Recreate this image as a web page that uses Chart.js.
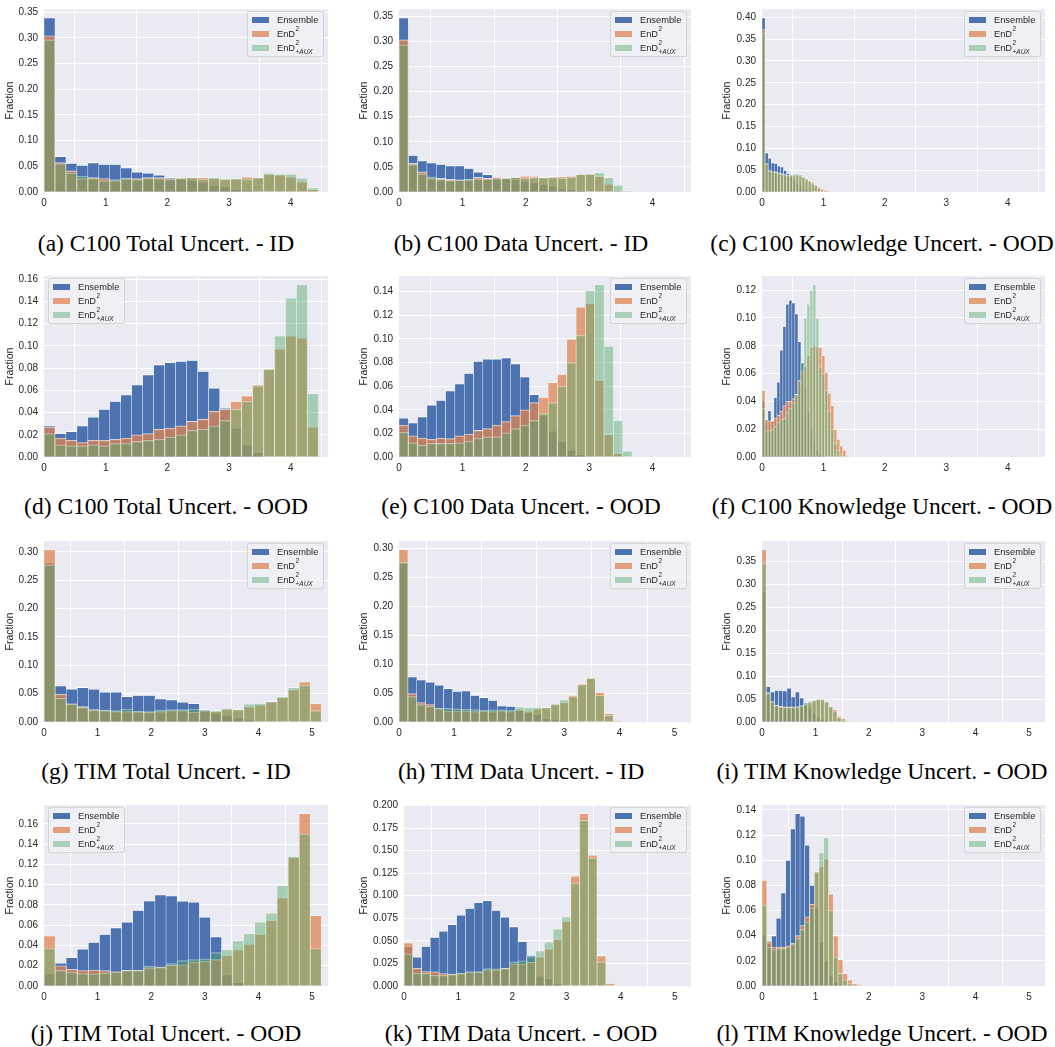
<!DOCTYPE html>
<html>
<head>
<meta charset="utf-8">
<script src="https://cdn.jsdelivr.net/npm/chart.js@4.4.1/dist/chart.umd.min.js"></script>
<style>
  html, body { margin: 0; padding: 0; background: #fff; }
  #fig { position: relative; width: 1055px; height: 1047px; overflow: hidden; }
  #fig canvas { position: absolute; }
  .cap { position: absolute; width: 440px; text-align: center; white-space: nowrap;
         font-family: "Liberation Serif", "Times New Roman", serif; font-size: 23.5px; line-height: 26px; color: #000; }
  .leg { position: absolute; width: 77px; height: 46px; box-sizing: border-box;
         background: rgba(240,240,246,0.8); border: 1px solid rgba(204,204,204,0.8); border-radius: 3px;
         font-family: "Liberation Sans", Arial, sans-serif; font-size: 9.3px; color: #262626; }
  .leg .sw { position: absolute; left: 4px; width: 17px; height: 6px; }
  .leg .lb { position: absolute; left: 29px; line-height: 12px; white-space: nowrap; }
  .leg .sup, .leg .sub { position: absolute; left: 18.5px; font-size: 6.5px; line-height: 8px; }
  .leg .sup { top: -3px; }
  .leg .sub { top: 6px; }
</style>
</head>
<body>
<div id="fig"></div>
<script>
// ── 資料：每張子圖三組直方圖（每 bin 的比例）────────────────
const c100Range = Math.log(100);
const timRange = Math.log(200);

// C100 Total Uncert.
const c100TotalBin = 0.178;
const c100TotalIdEns = [0.339, 0.069, 0.056, 0.052, 0.057, 0.054, 0.054, 0.047, 0.039, 0.037, 0.033, 0.028, 0.026, 0.023, 0.019, 0.013, 0.010, 0.005, 0.003, 0.001, 0, 0, 0, 0, 0];
const c100TotalIdEnd = [0.304, 0.057, 0.041, 0.026, 0.028, 0.026, 0.022, 0.026, 0.026, 0.028, 0.028, 0.026, 0.027, 0.028, 0.028, 0.026, 0.025, 0.025, 0.029, 0.028, 0.034, 0.033, 0.029, 0.020, 0.005];
const c100TotalIdAux = [0.296, 0.055, 0.037, 0.031, 0.026, 0.022, 0.024, 0.026, 0.024, 0.027, 0.026, 0.025, 0.027, 0.028, 0.025, 0.028, 0.025, 0.026, 0.025, 0.028, 0.037, 0.035, 0.035, 0.027, 0.008];
const c100TotalOodEns = [0.028, 0.021, 0.023, 0.028, 0.036, 0.043, 0.050, 0.056, 0.065, 0.074, 0.083, 0.085, 0.086, 0.087, 0.077, 0.062, 0.044, 0.026, 0.011, 0.004, 0, 0, 0, 0, 0];
const c100TotalOodEnd = [0.027, 0.017, 0.015, 0.013, 0.015, 0.015, 0.016, 0.017, 0.020, 0.021, 0.025, 0.026, 0.028, 0.032, 0.034, 0.041, 0.043, 0.050, 0.055, 0.065, 0.079, 0.097, 0.109, 0.107, 0.027];
const c100TotalOodAux = [0.021, 0.011, 0.010, 0.010, 0.011, 0.010, 0.012, 0.012, 0.014, 0.015, 0.016, 0.018, 0.020, 0.024, 0.025, 0.028, 0.033, 0.043, 0.050, 0.064, 0.079, 0.109, 0.143, 0.155, 0.057];

// C100 Data Uncert.
const c100DataBin = 0.147;
const c100DataIdEns = [0.347, 0.073, 0.062, 0.058, 0.055, 0.052, 0.052, 0.047, 0.040, 0.035, 0.029, 0.027, 0.025, 0.022, 0.019, 0.015, 0.012, 0.007, 0.005, 0.002, 0, 0, 0, 0, 0];
const c100DataIdEnd = [0.303, 0.057, 0.040, 0.027, 0.027, 0.025, 0.024, 0.024, 0.029, 0.027, 0.030, 0.028, 0.029, 0.032, 0.032, 0.029, 0.031, 0.031, 0.032, 0.035, 0.036, 0.031, 0.016, 0.003, 0];
const c100DataIdAux = [0.293, 0.055, 0.036, 0.030, 0.025, 0.023, 0.024, 0.025, 0.026, 0.026, 0.027, 0.028, 0.030, 0.028, 0.029, 0.029, 0.029, 0.028, 0.030, 0.036, 0.036, 0.039, 0.029, 0.014, 0.002];
const c100DataOodEns = [0.033, 0.029, 0.034, 0.044, 0.048, 0.056, 0.062, 0.071, 0.081, 0.083, 0.083, 0.084, 0.079, 0.068, 0.053, 0.035, 0.022, 0.013, 0.006, 0.002, 0, 0, 0, 0, 0];
const c100DataOodEnd = [0.027, 0.018, 0.016, 0.015, 0.016, 0.0155, 0.018, 0.0195, 0.0225, 0.024, 0.027, 0.030, 0.035, 0.040, 0.046, 0.0505, 0.063, 0.070, 0.100, 0.127, 0.130, 0.065, 0.019, 0.003, 0];
const c100DataOodAux = [0.021, 0.012, 0.010, 0.0115, 0.0115, 0.0115, 0.012, 0.0135, 0.016, 0.017, 0.017, 0.0205, 0.024, 0.027, 0.031, 0.037, 0.046, 0.060, 0.080, 0.103, 0.141, 0.146, 0.094, 0.031, 0.005];

// C100 Knowledge Uncert.
const c100KnowBinA = 0.05;
const c100KnowAEns = [0.399, 0.090, 0.078, 0.067, 0.066, 0.060, 0.058, 0.050, 0.043, 0.036, 0.028, 0.020, 0.014, 0.009, 0.005, 0.003, 0.001, 0, 0, 0, 0, 0, 0];
const c100KnowAEnd = [0.372, 0.065, 0.049, 0.046, 0.046, 0.044, 0.042, 0.040, 0.038, 0.037, 0.037, 0.038, 0.036, 0.034, 0.030, 0.026, 0.023, 0.017, 0.012, 0.008, 0.004, 0.002, 0.001];
const c100KnowAAux = [0.364, 0.064, 0.048, 0.047, 0.045, 0.043, 0.041, 0.040, 0.039, 0.040, 0.041, 0.042, 0.040, 0.035, 0.030, 0.025, 0.019, 0.014, 0.009, 0.005, 0.002, 0.001, 0];
const c100KnowBinB = 0.0487;
const c100KnowBEns = [0.0405, 0.026, 0.0335, 0.026, 0.043, 0.054, 0.077, 0.094, 0.110, 0.113, 0.111, 0.103, 0.083, 0.068, 0.050, 0.032, 0.020, 0.010, 0.005, 0.002, 0.001, 0, 0, 0, 0, 0, 0, 0, 0];
const c100KnowBEnd = [0.048, 0.027, 0.026, 0.026, 0.028, 0.030, 0.033, 0.037, 0.040, 0.040, 0.042, 0.045, 0.055, 0.062, 0.065, 0.073, 0.079, 0.080, 0.079, 0.079, 0.073, 0.061, 0.046, 0.037, 0.020, 0.013, 0.008, 0.005, 0.001];
const c100KnowBAux = [0.035, 0.019, 0.019, 0.020, 0.022, 0.025, 0.027, 0.028, 0.032, 0.035, 0.039, 0.045, 0.055, 0.068, 0.100, 0.110, 0.120, 0.124, 0.100, 0.065, 0.060, 0.048, 0.033, 0.020, 0.010, 0.005, 0.002, 0, 0];

// TIM Total Uncert.
const timTotalBin = 0.207;
const timTotalIdEns = [0.281, 0.064, 0.058, 0.061, 0.058, 0.053, 0.053, 0.045, 0.047, 0.047, 0.041, 0.039, 0.035, 0.0325, 0.022, 0.015, 0.012, 0.007, 0.003, 0, 0, 0, 0, 0, 0];
const timTotalIdEnd = [0.304, 0.049, 0.032, 0.027, 0.022, 0.020, 0.0185, 0.0185, 0.018, 0.0175, 0.0185, 0.020, 0.020, 0.0175, 0.020, 0.019, 0.0225, 0.0225, 0.027, 0.030, 0.036, 0.0435, 0.057, 0.071, 0.0325];
const timTotalIdAux = [0.277, 0.042, 0.032, 0.026, 0.021, 0.021, 0.020, 0.023, 0.019, 0.0185, 0.021, 0.022, 0.022, 0.023, 0.021, 0.020, 0.024, 0.022, 0.032, 0.033, 0.036, 0.0445, 0.061, 0.065, 0.020];
const timTotalOodEns = [0.012, 0.0226, 0.028, 0.0365, 0.043, 0.051, 0.0575, 0.063, 0.0747, 0.084, 0.090, 0.089, 0.0837, 0.0827, 0.068, 0.0485, 0.011, 0.0035, 0, 0, 0, 0, 0, 0, 0];
const timTotalOodEnd = [0.0495, 0.020, 0.0165, 0.0152, 0.0158, 0.0152, 0.014, 0.0155, 0.0155, 0.0178, 0.0187, 0.0204, 0.021, 0.0236, 0.0245, 0.026, 0.030, 0.0356, 0.0414, 0.051, 0.0646, 0.087, 0.127, 0.170, 0.0695];
const timTotalOodAux = [0.037, 0.0155, 0.0136, 0.0123, 0.012, 0.013, 0.014, 0.0155, 0.0155, 0.0194, 0.0187, 0.022, 0.025, 0.026, 0.0268, 0.033, 0.036, 0.0447, 0.0517, 0.063, 0.072, 0.099, 0.128, 0.150, 0.037];

// TIM Data Uncert.
const timDataBin = 0.162;
const timDataIdEns = [0.275, 0.078, 0.073, 0.069, 0.064, 0.058, 0.053, 0.054, 0.046, 0.0425, 0.0375, 0.028, 0.027, 0.020, 0.016, 0.013, 0.006, 0.004, 0.002, 0, 0, 0, 0, 0, 0];
const timDataIdEnd = [0.298, 0.049, 0.0335, 0.030, 0.023, 0.019, 0.0188, 0.0188, 0.018, 0.0188, 0.018, 0.0193, 0.018, 0.021, 0.0188, 0.0225, 0.025, 0.031, 0.0335, 0.046, 0.066, 0.076, 0.051, 0.0145, 0.002];
const timDataIdAux = [0.276, 0.044, 0.030, 0.027, 0.024, 0.0237, 0.0226, 0.022, 0.0215, 0.0205, 0.021, 0.021, 0.0205, 0.0265, 0.025, 0.0255, 0.025, 0.031, 0.0385, 0.044, 0.0645, 0.076, 0.046, 0.0115, 0];
const timDataOodEns = [0.0436, 0.032, 0.044, 0.054, 0.061, 0.068, 0.0786, 0.086, 0.0925, 0.0946, 0.084, 0.0764, 0.0657, 0.0493, 0.034, 0.011, 0.008, 0.0025, 0, 0, 0, 0, 0, 0];
const timDataOodEnd = [0.048, 0.0196, 0.016, 0.0157, 0.0139, 0.0132, 0.0139, 0.015, 0.0157, 0.018, 0.018, 0.0196, 0.0246, 0.0246, 0.0264, 0.032, 0.041, 0.0514, 0.0714, 0.1218, 0.191, 0.145, 0.0336, 0.003];
const timDataOodAux = [0.0357, 0.0143, 0.014, 0.012, 0.012, 0.0129, 0.0139, 0.016, 0.0157, 0.0193, 0.019, 0.0196, 0.0268, 0.028, 0.0329, 0.039, 0.0486, 0.063, 0.0768, 0.114, 0.1836, 0.142, 0.0268, 0];

// TIM Knowledge Uncert.
const timKnowBinA = 0.078;
const timKnowAEns = [0.284, 0.078, 0.066, 0.069, 0.069, 0.068, 0.074, 0.055, 0.066, 0.053, 0.042, 0.030, 0.020, 0.012, 0.006, 0.003, 0.001, 0, 0, 0, 0];
const timKnowAEnd = [0.376, 0.064, 0.044, 0.037, 0.034, 0.033, 0.033, 0.033, 0.033, 0.035, 0.038, 0.042, 0.046, 0.049, 0.050, 0.045, 0.035, 0.027, 0.013, 0.008, 0.002];
const timKnowAAux = [0.346, 0.062, 0.045, 0.036, 0.033, 0.032, 0.032, 0.032, 0.033, 0.036, 0.040, 0.045, 0.048, 0.050, 0.049, 0.044, 0.033, 0.023, 0.010, 0.005, 0.001];
const timKnowBinB = 0.089;
const timKnowBEns = [0.041, 0.034, 0.040, 0.054, 0.074, 0.100, 0.125, 0.137, 0.135, 0.112, 0.080, 0.062, 0.035, 0.020, 0.008, 0.003, 0.001, 0, 0, 0, 0];
const timKnowBEnd = [0.084, 0.036, 0.031, 0.031, 0.031, 0.032, 0.034, 0.040, 0.048, 0.055, 0.065, 0.090, 0.095, 0.101, 0.073, 0.040, 0.021, 0.010, 0.005, 0.002, 0.001];
const timKnowBAux = [0.064, 0.031, 0.029, 0.030, 0.030, 0.031, 0.033, 0.038, 0.045, 0.051, 0.062, 0.091, 0.106, 0.118, 0.060, 0.023, 0.010, 0.005, 0.002, 0.001, 0];

// ── 版面與樣式 ────────────────────────────────────────────
const SANS = "'Liberation Sans', Arial, sans-serif";
const TICK = "#262626";
const SERIES = [
  { label: "Ensemble", rgb: [76, 114, 176], alpha: 1.0,  order: 3 },
  { label: "EnD2",     rgb: [221, 132, 82], alpha: 0.75, order: 2 },
  { label: "EnD2aux",  rgb: [85, 168, 104], alpha: 0.45, order: 1 },
];

// 每欄：canvas 左緣、繪圖區左右、標題中心
const COLS = [
  { canvasLeft: 0,   plotLeft: 44,  plotRight: 328,  capX: 166 },
  { canvasLeft: 354, plotLeft: 399, plotRight: 691,  capX: 521 },
  { canvasLeft: 717, plotLeft: 762, plotRight: 1045, capX: 882 },
];
// 每列：繪圖區上下、標題中心
const ROWS = [
  { top: 5,   bottom: 192, capY: 243 },
  { top: 272, bottom: 457, capY: 506 },
  { top: 537, bottom: 722, capY: 771 },
  { top: 801, bottom: 986, capY: 1033 },
];

const PANELS = [
  { cap: "(a) C100 Total Uncert. - ID",       col: 0, row: 0, xMax: c100Range, bin: c100TotalBin, d: [c100TotalIdEns, c100TotalIdEnd, c100TotalIdAux], step: 0.05, dec: 2 },
  { cap: "(b) C100 Data Uncert. - ID",        col: 1, row: 0, xMax: c100Range, bin: c100DataBin,  d: [c100DataIdEns, c100DataIdEnd, c100DataIdAux], step: 0.05, dec: 2 },
  { cap: "(c) C100 Knowledge Uncert. - OOD",  col: 2, row: 0, xMax: c100Range, bin: c100KnowBinA, d: [c100KnowAEns, c100KnowAEnd, c100KnowAAux], step: 0.05, dec: 2 },
  { cap: "(d) C100 Total Uncert. - OOD",      col: 0, row: 1, xMax: c100Range, bin: c100TotalBin, d: [c100TotalOodEns, c100TotalOodEnd, c100TotalOodAux], step: 0.02, dec: 2, legendLeft: true },
  { cap: "(e) C100 Data Uncert. - OOD",       col: 1, row: 1, xMax: c100Range, bin: c100DataBin,  d: [c100DataOodEns, c100DataOodEnd, c100DataOodAux], step: 0.02, dec: 2 },
  { cap: "(f) C100 Knowledge Uncert. - OOD",  col: 2, row: 1, xMax: c100Range, bin: c100KnowBinB, d: [c100KnowBEns, c100KnowBEnd, c100KnowBAux], step: 0.02, dec: 2 },
  { cap: "(g) TIM Total Uncert. - ID",        col: 0, row: 2, xMax: timRange,  bin: timTotalBin,  d: [timTotalIdEns, timTotalIdEnd, timTotalIdAux], step: 0.05, dec: 2 },
  { cap: "(h) TIM Data Uncert. - ID",         col: 1, row: 2, xMax: timRange,  bin: timDataBin,   d: [timDataIdEns, timDataIdEnd, timDataIdAux], step: 0.05, dec: 2 },
  { cap: "(i) TIM Knowledge Uncert. - OOD",   col: 2, row: 2, xMax: timRange,  bin: timKnowBinA,  d: [timKnowAEns, timKnowAEnd, timKnowAAux], step: 0.05, dec: 2 },
  { cap: "(j) TIM Total Uncert. - OOD",       col: 0, row: 3, xMax: timRange,  bin: timTotalBin,  d: [timTotalOodEns, timTotalOodEnd, timTotalOodAux], step: 0.02, dec: 2, legendLeft: true },
  { cap: "(k) TIM Data Uncert. - OOD",        col: 1, row: 3, xMax: timRange,  bin: timDataBin,   d: [timDataOodEns, timDataOodEnd, timDataOodAux], step: 0.025, dec: 3, plotLeft: 404 },
  { cap: "(l) TIM Knowledge Uncert. - OOD",   col: 2, row: 3, xMax: timRange,  bin: timKnowBinB,  d: [timKnowBEns, timKnowBEnd, timKnowBAux], step: 0.02, dec: 2 },
];

const rgba = (rgb, a) => `rgba(${rgb[0]},${rgb[1]},${rgb[2]},${a})`;

// 繪圖區底色（seaborn darkgrid）
const plotBg = {
  id: "plotBg",
  beforeDraw(chart) {
    const { ctx, chartArea: a } = chart;
    ctx.save();
    ctx.fillStyle = "#eaeaf2";
    ctx.fillRect(a.left, a.top, a.width, a.height);
    ctx.restore();
  },
};

const fig = document.getElementById("fig");
const PAD_T = 8, PAD_R = 3, AXIS_H = 22;

// ── 單張直方圖 ────────────────────────────────────────────
function makePanel(p) {
  const col = COLS[p.col], row = ROWS[p.row];
  const plotLeft = p.plotLeft || col.plotLeft;
  const w = col.plotRight + PAD_R - col.canvasLeft;
  const h = PAD_T + (row.bottom - row.top) + AXIS_H;
  const yW = plotLeft - col.canvasLeft;

  const canvas = document.createElement("canvas");
  canvas.width = w; canvas.height = h;
  canvas.style.left = col.canvasLeft + "px";
  canvas.style.top = (row.top - PAD_T) + "px";
  canvas.style.width = w + "px"; canvas.style.height = h + "px";
  fig.appendChild(canvas);

  const yMax = 1.05 * Math.max(...p.d[0], ...p.d[1], ...p.d[2]);

  const datasets = SERIES.map((s, k) => ({
    label: s.label,
    data: p.d[k].map((v, i) => ({ x: (i + 0.5) * p.bin, y: v })),
    backgroundColor: rgba(s.rgb, s.alpha),
    borderColor: rgba([255, 255, 255], s.alpha),
    borderWidth: { top: 0.8, left: 0.5, right: 0.5, bottom: 0 },
    grouped: false,
    barPercentage: 1,
    categoryPercentage: 1,
    order: s.order,
  }));

  new Chart(canvas, {
    type: "bar",
    data: { datasets },
    options: {
      responsive: false,
      animation: false,
      devicePixelRatio: 1,
      layout: { padding: { top: PAD_T, right: PAD_R, left: 0, bottom: 0 } },
      plugins: { legend: { display: false }, tooltip: { enabled: false } },
      scales: {
        x: {
          type: "linear", min: 0, max: p.xMax, offset: false,
          ticks: { stepSize: 1, includeBounds: false, padding: 5, color: TICK,
                   font: { family: SANS, size: 10 }, callback: v => String(v) },
          grid: { color: "#ffffff", lineWidth: 1, drawTicks: false },
          border: { display: false },
          afterFit: s => { s.height = AXIS_H; },
        },
        y: {
          type: "linear", min: 0, max: yMax,
          ticks: { stepSize: p.step, includeBounds: false, padding: 6, color: TICK,
                   font: { family: SANS, size: 10 }, callback: v => v.toFixed(p.dec) },
          grid: { color: "#ffffff", lineWidth: 1, drawTicks: false },
          border: { display: false },
          title: { display: true, text: "Fraction", color: TICK,
                   font: { family: SANS, size: 10.5 }, padding: { top: 4, bottom: 0 } },
          afterFit: s => { s.width = yW; },
        },
      },
    },
    plugins: [plotBg],
  });

  // 圖例（HTML，方便上下標）
  const leg = document.createElement("div");
  leg.className = "leg";
  leg.style.left = (p.legendLeft ? plotLeft + 4 : col.plotRight - 4 - 77) + "px";
  leg.style.top = (row.top + 6) + "px";
  const labels = [
    "Ensemble",
    'EnD<span class="sup">2</span>',
    'EnD<span class="sup">2</span><span class="sub">+<i>AUX</i></span>',
  ];
  const rowTops = [4, 18, 32];
  SERIES.forEach((s, k) => {
    const sw = document.createElement("div");
    sw.className = "sw";
    sw.style.top = (rowTops[k] + 1) + "px";
    sw.style.background = rgba(s.rgb, s.alpha);
    leg.appendChild(sw);
    const lb = document.createElement("div");
    lb.className = "lb";
    lb.style.top = (rowTops[k] - 2) + "px";
    lb.innerHTML = labels[k];
    leg.appendChild(lb);
  });
  fig.appendChild(leg);

  // 子圖標題
  const cap = document.createElement("div");
  cap.className = "cap";
  cap.style.left = (col.capX - 220) + "px";
  cap.style.top = (row.capY - 13) + "px";
  cap.textContent = p.cap;
  fig.appendChild(cap);
}

PANELS.forEach(makePanel);
</script>
</body>
</html>
